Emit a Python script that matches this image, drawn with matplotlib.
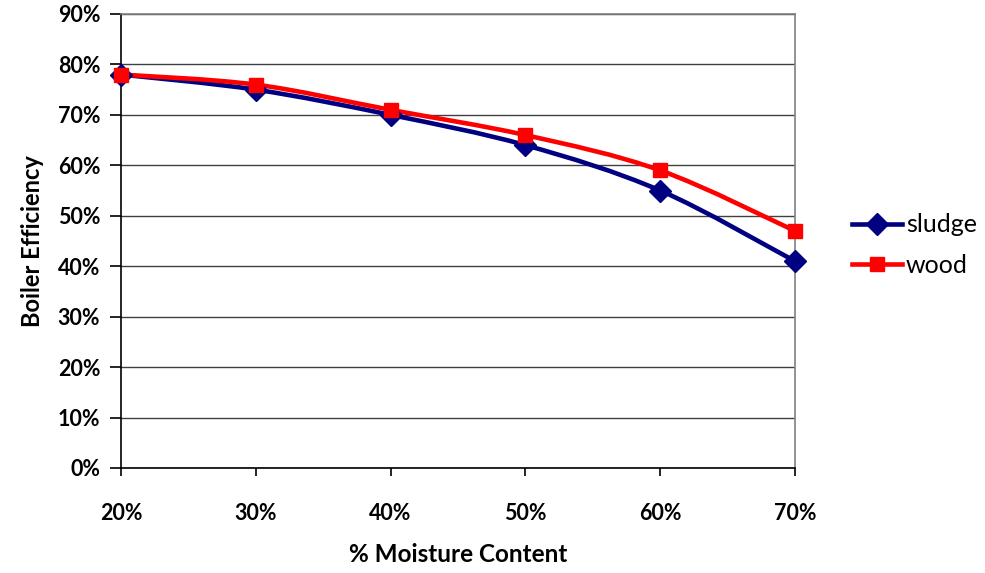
import numpy as np
import matplotlib
matplotlib.use("Agg")
import matplotlib.pyplot as plt
from matplotlib.path import Path
from matplotlib.patches import PathPatch
from matplotlib.lines import Line2D
from matplotlib.ticker import FuncFormatter

moisture = [20, 30, 40, 50, 60, 70]
sludge = [78, 75, 70, 64, 55, 41]
wood = [78, 76, 71, 66, 59, 47]
series_names = ["sludge", "wood"]
colors = ["#000080", "#FF0000"]
markers = ["D", "s"]

plt.rcParams['font.family'] = ['Lato', 'DejaVu Sans']

fig = plt.figure(figsize=(9.85, 5.73), dpi=100)
ax = fig.add_axes([121/985, 1-468/573, (795-121)/985, (468-14)/573])


def smooth_path(x, y):
    x = np.asarray(x, float); y = np.asarray(y, float)
    n = len(x)
    verts = [(x[0], y[0])]
    codes = [Path.MOVETO]
    for i in range(n - 1):
        p0 = (x[max(i-1, 0)], y[max(i-1, 0)])
        p1 = (x[i], y[i])
        p2 = (x[i+1], y[i+1])
        p3 = (x[min(i+2, n-1)], y[min(i+2, n-1)])
        c1 = (p1[0] + (p2[0]-p0[0])/6, p1[1] + (p2[1]-p0[1])/6)
        c2 = (p2[0] - (p3[0]-p1[0])/6, p2[1] - (p3[1]-p1[1])/6)
        verts += [c1, c2, p2]
        codes += [Path.CURVE4]*3
    return Path(verts, codes)


handles = []
for vals, name, c, m in zip([sludge, wood], series_names, colors, markers):
    patch = PathPatch(smooth_path(moisture, vals), facecolor='none', edgecolor=c,
                      lw=3.3, zorder=3, capstyle='round', joinstyle='round')
    patch.set_clip_on(False)
    ax.add_patch(patch)
    ms = 11 if m == 'D' else 10.5
    ax.plot(moisture, vals, linestyle='none', marker=m, color=c, ms=ms,
            zorder=4, clip_on=False)
    handles.append(Line2D([], [], color=c, lw=3.3, marker=m, ms=ms))

ax.set_xlim(20, 70)
ax.set_ylim(0, 90)
ax.set_xticks(moisture)
ax.set_yticks(np.arange(0, 91, 10))
pct = FuncFormatter(lambda v, p: f"{v:.0f}%")
ax.xaxis.set_major_formatter(pct)
ax.yaxis.set_major_formatter(pct)
ax.grid(axis='y', color='#404040', lw=1.0)
ax.set_axisbelow(True)
for s in ['top', 'right']:
    ax.spines[s].set_color('#808080')
    ax.spines[s].set_linewidth(1.2)
for s in ['left', 'bottom']:
    ax.spines[s].set_color('black')
    ax.spines[s].set_linewidth(1.2)
ax.tick_params(axis='y', direction='out', length=8, width=1.2, pad=7,
               labelsize=15.5)
ax.tick_params(axis='x', direction='out', length=6, width=1.2, pad=19,
               labelsize=15.5)
for lab in ax.get_xticklabels() + ax.get_yticklabels():
    lab.set_fontweight('bold')

ax.set_xlabel("% Moisture Content", fontsize=17.5, fontweight='bold', labelpad=14)
ax.set_ylabel("Boiler Efficiency", fontsize=17, fontweight='bold', labelpad=10)

fig.legend(handles, series_names, loc='center left',
           bbox_to_anchor=(852/985, 1-245/573), frameon=False, fontsize=18,
           handlelength=2.0, handletextpad=0.15, labelspacing=0.7,
           borderaxespad=0, borderpad=0)

fig.savefig("out.png", dpi=100)
